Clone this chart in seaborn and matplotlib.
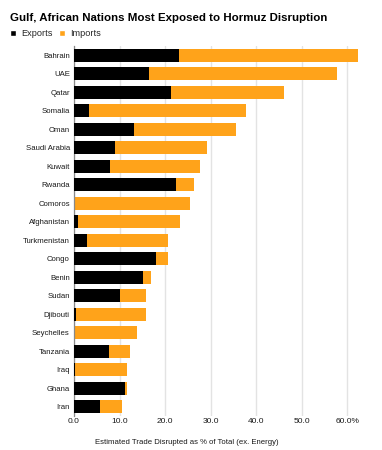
import matplotlib
matplotlib.use("Agg")
import matplotlib.pyplot as plt
import seaborn as sns
import pandas as pd
from matplotlib.patches import Patch

countries = ["Bahrain", "UAE", "Qatar", "Somalia", "Oman", "Saudi Arabia", "Kuwait",
             "Rwanda", "Comoros", "Afghanistan", "Turkmenistan", "Congo", "Benin",
             "Sudan", "Djibouti", "Seychelles", "Tanzania", "Iraq", "Ghana", "Iran"]
exports = [23.1, 16.4, 21.2, 3.3, 13.2, 8.9, 7.8, 22.3, 0.1, 0.8, 2.9, 18.1, 15.1,
           10.2, 0.4, 0.1, 7.6, 0.3, 11.3, 5.6]
imports = [39.3, 41.4, 24.8, 34.5, 22.4, 20.3, 19.9, 4.0, 25.4, 22.4, 17.8, 2.5, 1.8,
           5.7, 15.3, 13.7, 4.8, 11.3, 0.3, 5.0]
xticks = [0, 10, 20, 30, 40, 50, 60]
xtick_labels = ["0.0", "10.0", "20.0", "30.0", "40.0", "50.0", "60.0%"]

ORANGE = "#FFA31A"
BLACK = "#000000"
REG = ["Liberation Sans", "DejaVu Sans"]

df = pd.DataFrame({"country": countries, "exports": exports, "imports": imports})
df["total"] = df["exports"] + df["imports"]

sns.set_style("white")
plt.rcParams["font.family"] = REG

fig = plt.figure(figsize=(3.82, 4.5), dpi=100)
ax = fig.add_axes([74 / 382, 1 - 416 / 450, (361 - 74) / 382, (416 - 46) / 450])

sns.barplot(data=df, y="country", x="total", color=ORANGE, orient="h",
            width=0.7, ax=ax, saturation=1, zorder=2, linewidth=0)
sns.barplot(data=df, y="country", x="exports", color=BLACK, orient="h",
            width=0.7, ax=ax, saturation=1, zorder=3, linewidth=0)

ax.set_xlim(0, 63)
ax.set_ylim(len(countries) - 0.5, -0.5)
ax.set_xticks(xticks)
ax.set_xticklabels(xtick_labels)
ax.xaxis.grid(True, color="#e3e3e3", linewidth=1.0, zorder=0)
ax.yaxis.grid(False)
ax.set_axisbelow(True)
for s in ["top", "right", "bottom"]:
    ax.spines[s].set_visible(False)
ax.spines["left"].set_color("#888888")
ax.spines["left"].set_linewidth(0.9)
ax.tick_params(axis="both", length=0, colors="#1a1a1a")
ax.tick_params(axis="x", pad=1.5, labelsize=6.0)
ax.tick_params(axis="y", pad=3, labelsize=5.6)
ax.set_ylabel("")
ax.set_xlabel("")

fig.text(186.5 / 382, 1 - 443 / 450, "Estimated Trade Disrupted as % of Total (ex. Energy)",
         fontsize=5.6, color="#1a1a1a", va="center", ha="center")

fig.text(10 / 382, 1 - 18 / 450, "Gulf, African Nations Most Exposed to Hormuz Disruption",
         fontsize=8.25, fontweight="bold", color="#000000", va="center", ha="left")

handles = [Patch(facecolor=BLACK, label="Exports"), Patch(facecolor=ORANGE, label="Imports")]
fig.legend(handles=handles, loc="center left", bbox_to_anchor=(10 / 382, 1 - 34 / 450),
           ncol=2, frameon=False, prop={"size": 6.6},
           handlelength=0.65, handleheight=0.65,
           handletextpad=0.55, columnspacing=0.7, borderaxespad=0, borderpad=0)

fig.savefig("out.png", dpi=100)
